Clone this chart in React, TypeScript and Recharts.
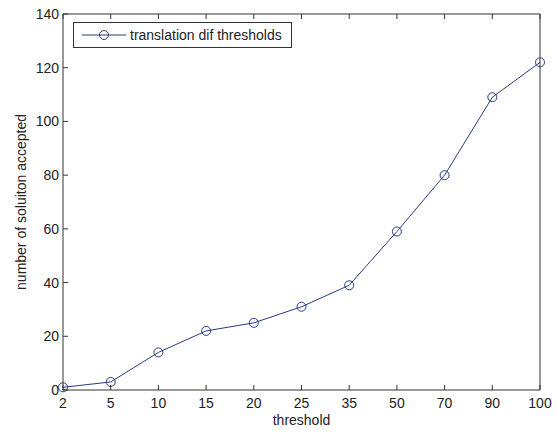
import React from "react";
import { LineChart, Line, XAxis, YAxis } from "recharts";

const thresholds = ["2", "5", "10", "15", "20", "25", "35", "50", "70", "90", "100"];
const accepted = [1, 3, 14, 22, 25, 31, 39, 59, 80, 109, 122];
const yTicks = [0, 20, 40, 60, 80, 100, 120, 140];

const data = thresholds.map((t, i) => ({ i, label: t, value: accepted[i] }));
const xTicks = data.map((d) => d.i);

const lineColor = "#2c3a82";
const axisColor = "#333";
const font = "'Liberation Sans', Arial, sans-serif";
const tickStyle = { fill: "#222", fontSize: 14, fontFamily: font };

// legend box drawn over the plot, top-left like matlab's "northwest"
const LegendBox = () => (
  <div
    style={{
      position: "absolute",
      left: 73,
      top: 22,
      border: "1px solid #333",
      background: "#fff",
      display: "flex",
      alignItems: "center",
      height: 26,
      width: 219,
      boxSizing: "border-box",
      fontFamily: font,
      fontSize: 14,
      color: "#222",
    }}
  >
    <svg width={56} height={20} style={{ marginLeft: 8 }}>
      <line x1={0} y1={10} x2={44} y2={10} stroke={lineColor} strokeWidth={1} />
      <circle cx={22} cy={10} r={4.5} fill="none" stroke={lineColor} strokeWidth={1} />
    </svg>
    <span style={{ marginLeft: -8 }}>translation dif thresholds</span>
  </div>
);

const App: React.FC = () => {
  return (
    <div style={{ position: "absolute", left: 0, top: 0, width: 557, height: 432, background: "#fff" }}>
      <LineChart width={557} height={432} data={data} margin={{ top: 13, right: 16, left: 0, bottom: 0 }}>
        <XAxis
          dataKey="i"
          type="number"
          domain={[0, 10]}
          ticks={xTicks}
          tickFormatter={(v: number) => thresholds[v]}
          stroke={axisColor}
          tickSize={-5}
          tickMargin={13}
          tick={tickStyle}
          height={42}
          label={{
            content: ({ viewBox }: any) => (
              <text
                x={viewBox.x + viewBox.width / 2}
                y={425}
                textAnchor="middle"
                fill="#222"
                fontSize={14}
                fontFamily={font}
              >
                threshold
              </text>
            ),
          }}
        />
        <XAxis
          xAxisId="top"
          dataKey="i"
          type="number"
          orientation="top"
          domain={[0, 10]}
          ticks={xTicks}
          tickFormatter={() => ""}
          stroke={axisColor}
          tickSize={-5}
          height={1}
        />
        <YAxis
          type="number"
          domain={[0, 140]}
          ticks={yTicks}
          stroke={axisColor}
          tickSize={-5}
          tickMargin={9}
          tick={tickStyle}
          width={63}
          label={{
            content: ({ viewBox }: any) => (
              <text
                x={21}
                y={viewBox.y + viewBox.height / 2}
                transform={`rotate(-90 21 ${viewBox.y + viewBox.height / 2})`}
                textAnchor="middle"
                dominantBaseline="central"
                fill="#222"
                fontSize={14}
                fontFamily={font}
              >
                number of soluiton accepted
              </text>
            ),
          }}
        />
        <YAxis
          yAxisId="right"
          type="number"
          orientation="right"
          domain={[0, 140]}
          ticks={yTicks}
          tickFormatter={() => ""}
          stroke={axisColor}
          tickSize={-5}
          width={1}
        />
        <Line
          type="linear"
          dataKey="value"
          name="translation dif thresholds"
          stroke={lineColor}
          strokeWidth={1}
          dot={{ r: 4.5, fill: "none", stroke: lineColor, strokeWidth: 1 }}
          activeDot={false}
          isAnimationActive={false}
        />
      </LineChart>
      <LegendBox />
    </div>
  );
};

export default App;
